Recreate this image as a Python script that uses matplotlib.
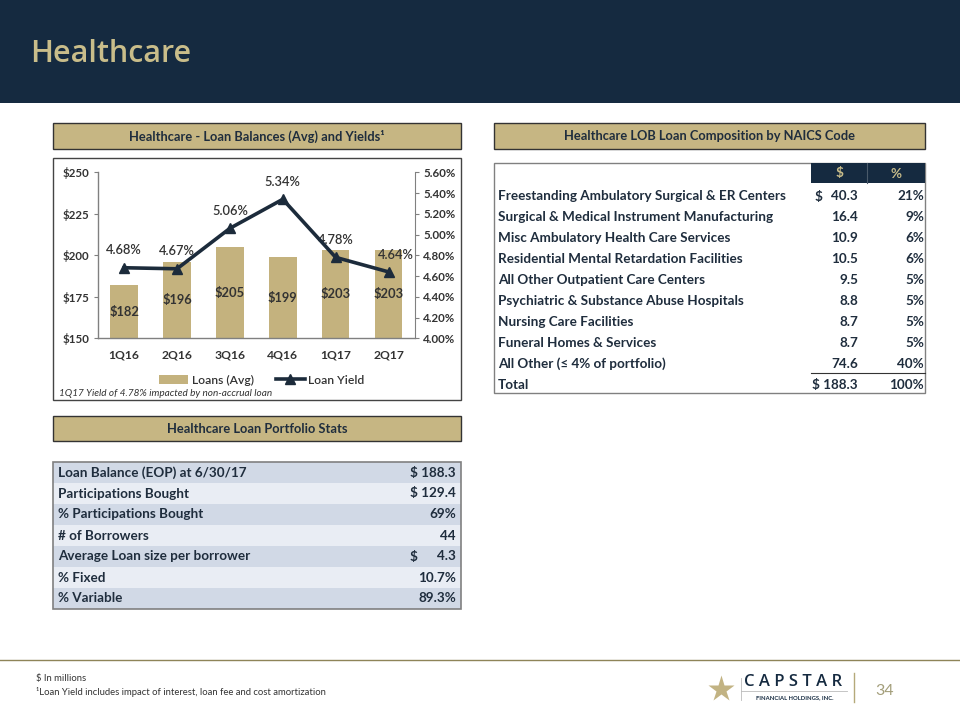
import matplotlib
matplotlib.use("Agg")
import matplotlib.pyplot as plt
from matplotlib.patches import Rectangle, Patch
from matplotlib.lines import Line2D
from matplotlib.ticker import FuncFormatter, FixedLocator

plt.rcParams['font.family'] = ['Lato', 'DejaVu Sans']

# ---------------- data ----------------
quarters = ["1Q16", "2Q16", "3Q16", "4Q16", "1Q17", "2Q17"]
loans_avg = [182, 196, 205, 199, 203, 203]
loan_yield = [4.68, 4.67, 5.06, 5.34, 4.78, 4.64]
left_ticks = [150, 175, 200, 225, 250]
right_ticks = [4.00, 4.20, 4.40, 4.60, 4.80, 5.00, 5.20, 5.40, 5.60]

naics_labels = [
    "Freestanding Ambulatory Surgical & ER Centers",
    "Surgical & Medical Instrument Manufacturing",
    "Misc Ambulatory Health Care Services",
    "Residential Mental Retardation Facilities",
    "All Other Outpatient Care Centers",
    "Psychiatric & Substance Abuse Hospitals",
    "Nursing Care Facilities",
    "Funeral Homes & Services",
    "All Other (\u2264 4% of portfolio)",
    "Total",
]
naics_dollars = ["40.3", "16.4", "10.9", "10.5", "9.5", "8.8", "8.7", "8.7", "74.6", "$ 188.3"]
naics_pct = ["21%", "9%", "6%", "6%", "5%", "5%", "5%", "5%", "40%", "100%"]

stats_labels = [
    "Loan Balance (EOP) at 6/30/17",
    "Participations Bought",
    "% Participations Bought",
    "# of Borrowers",
    "Average Loan size per borrower",
    "% Fixed",
    "% Variable",
]
stats_values = ["$ 188.3", "$ 129.4", "69%", "44", "4.3", "10.7%", "89.3%"]

# ---------------- styles ----------------
NAVY = "#152A40"
GOLD_TXT = "#C9BD8A"
GOLD_BOX = "#C6B683"
BAR = "#C4B27E"
LINE = "#1C2B3B"
DARK = "#1F2D3D"
GRAY = "#808080"
W, H = 960, 720

fig = plt.figure(figsize=(9.6, 7.2), dpi=100)
fig.patch.set_facecolor("white")

bg = fig.add_axes([0, 0, 1, 1])
bg.set_xlim(0, W)
bg.set_ylim(H, 0)
bg.axis("off")

# header band
bg.add_patch(Rectangle((0, 0), W, 103, facecolor=NAVY, edgecolor="none"))
bg.text(30, 54, "Healthcare", color=GOLD_TXT, fontsize=22, va="center", ha="left",
        fontweight="semibold", family=["Open Sans", "DejaVu Sans"])


def title_box(x0, y0, x1, y1, text):
    bg.add_patch(Rectangle((x0, y0), x1 - x0, y1 - y0, facecolor=GOLD_BOX,
                           edgecolor="#333333", lw=1.0))
    bg.text((x0 + x1) / 2, (y0 + y1) / 2 + 0.5, text, ha="center", va="center",
            fontsize=9.3, fontweight="bold", color=DARK)


title_box(53, 123, 461, 149, "Healthcare - Loan Balances (Avg) and Yields\u00b9")
title_box(494, 123, 925, 149, "Healthcare LOB Loan Composition by NAICS Code")
title_box(53, 416, 461, 441, "Healthcare Loan Portfolio Stats")

# chart frame
bg.add_patch(Rectangle((53, 158), 408, 242, facecolor="none", edgecolor="#444444", lw=1.0))

# ---------------- chart ----------------
L, R, T, B = 97.7, 415, 172.3, 338.3
ax = fig.add_axes([L / W, 1 - B / H, (R - L) / W, (B - T) / H])
ax.set_facecolor("none")
x = list(range(len(quarters)))
ax.bar(x, loans_avg, width=0.52, color=BAR, zorder=2)
ax.set_xlim(-0.5, len(quarters) - 0.5)
ax.set_ylim(150, 250)
ax.yaxis.set_major_locator(FixedLocator(left_ticks))
ax.yaxis.set_major_formatter(FuncFormatter(lambda v, p: f"${v:.0f}"))
ax.set_xticks(x)
ax.set_xticklabels(quarters, fontsize=8.7, fontweight="bold", color="#333333")
ax.tick_params(axis="x", length=0, pad=8)
ax.tick_params(axis="y", direction="out", length=3, color=GRAY, labelsize=8.3,
               labelcolor="#333333", pad=3)
for lab in ax.get_yticklabels():
    lab.set_fontweight("bold")
for s in ["top", "right"]:
    ax.spines[s].set_visible(False)
for s in ["left", "bottom"]:
    ax.spines[s].set_color(GRAY)
    ax.spines[s].set_linewidth(1.0)
for xi, v in zip(x, loans_avg):
    ax.text(xi, (150 + v) / 2, f"${v}", ha="center", va="center", fontsize=9.3,
            fontweight="bold", color="#333333", zorder=4)

ax2 = ax.twinx()
ax2.set_ylim(4.0, 5.6)
ax2.yaxis.set_major_locator(FixedLocator(right_ticks))
ax2.yaxis.set_major_formatter(FuncFormatter(lambda v, p: f"{v:.2f}%"))
ax2.plot(x, loan_yield, color=LINE, lw=2.6, marker="^", markersize=6.5, zorder=5)
ax2.tick_params(axis="y", direction="out", length=3, color=GRAY, labelsize=8.3,
                labelcolor="#333333", pad=3)
for lab in ax2.get_yticklabels():
    lab.set_fontweight("bold")
for s in ["top", "left", "bottom"]:
    ax2.spines[s].set_visible(False)
ax2.spines["right"].set_color(GRAY)
for xi, v in zip(x, loan_yield):
    dx = 5 if xi == len(x) - 1 else 0
    ax2.annotate(f"{v:.2f}%", (xi, v), xytext=(dx, 12.5), textcoords="offset points",
                 ha="center", va="center", fontsize=9.3, fontweight="semibold",
                 color="#333333")

handles = [Patch(facecolor=BAR, edgecolor="none"),
           Line2D([0], [0], color=LINE, lw=2.6, marker="^", markersize=6.5)]
leg = fig.legend(handles, ["Loans (Avg)", "Loan Yield"], loc="center",
                 bbox_to_anchor=(262 / W, 1 - 380 / H), ncol=2, frameon=False,
                 fontsize=8.7, handlelength=2.4, handletextpad=0.3, columnspacing=1.8)
for t in leg.get_texts():
    t.set_fontweight("semibold")
    t.set_color("#333333")

bg.text(59, 393, "1Q17 Yield of 4.78% impacted by non-accrual loan", fontsize=7.2,
        style="italic", color="#333333", va="center", ha="left")

# ---------------- NAICS table ----------------
bg.add_patch(Rectangle((494, 163), 431, 230, facecolor="none", edgecolor=GRAY, lw=1.0))
bg.add_patch(Rectangle((811, 163), 56, 20, facecolor=NAVY, edgecolor="none"))
bg.add_patch(Rectangle((867, 163), 58, 20, facecolor=NAVY, edgecolor="none"))
bg.plot([867, 867], [163, 183], color="#4A5A6A", lw=0.8)
bg.text(839, 173.5, "$", ha="center", va="center", fontsize=9.7, fontweight="bold", color=GOLD_TXT)
bg.text(896, 173.5, "%", ha="center", va="center", fontsize=9.7, fontweight="bold", color=GOLD_TXT)
row0, rstep = 196.5, 20.95
for i, (lab, d, p) in enumerate(zip(naics_labels, naics_dollars, naics_pct)):
    y = row0 + i * rstep
    bg.text(498, y, lab, ha="left", va="center", fontsize=9.7, fontweight="bold", color=DARK)
    bg.text(858, y, d, ha="right", va="center", fontsize=9.7, fontweight="bold", color=DARK)
    bg.text(924, y, p, ha="right", va="center", fontsize=9.7, fontweight="bold", color=DARK)
    if i == 0:
        bg.text(815, y, "$", ha="left", va="center", fontsize=9.7, fontweight="bold", color=DARK)
bg.plot([811, 925], [372.5, 372.5], color="#333333", lw=0.8)

# ---------------- stats table ----------------
sy0, sh = 462, 21
for i, (lab, val) in enumerate(zip(stats_labels, stats_values)):
    y = sy0 + i * sh
    bg.add_patch(Rectangle((53, y), 408, sh, facecolor="#D1D9E6" if i % 2 == 0 else "#E9EDF4",
                           edgecolor="none"))
    bg.text(58, y + sh / 2, lab, ha="left", va="center", fontsize=9.7, fontweight="bold", color=DARK)
    bg.text(456, y + sh / 2, val, ha="right", va="center", fontsize=9.7, fontweight="bold", color=DARK)
    if lab.startswith("Average"):
        bg.text(410, y + sh / 2, "$", ha="left", va="center", fontsize=9.7, fontweight="bold", color=DARK)
bg.add_patch(Rectangle((53, sy0), 408, sh * len(stats_labels), facecolor="none",
                       edgecolor=GRAY, lw=1.2))

# ---------------- footer ----------------
bg.plot([0, W], [660, 660], color="#8E8458", lw=1.0)
bg.text(36, 679, "$ In millions", fontsize=6.8, color="#333333", va="center", ha="left")
bg.text(36, 692, "\u00b9Loan Yield includes impact of interest, loan fee and cost amortization",
        fontsize=6.8, color="#333333", va="center", ha="left")
bg.plot([721], [689], marker="*", markersize=20, color="#C2B383", markeredgecolor="none")
bg.text(744, 682, "C A P S T A R", fontsize=12, color=NAVY, va="center", ha="left",
        fontweight="semibold", family=["Open Sans", "DejaVu Sans"])
bg.plot([741, 847], [691, 691], color="#BBBBBB", lw=0.6)
bg.plot([741, 741], [678, 700], color="#BBBBBB", lw=0.6)
bg.text(795, 698, "FINANCIAL HOLDINGS, INC.", fontsize=4.2, color=NAVY, va="center", ha="center",
        fontweight="bold")
bg.plot([854, 854], [673, 702], color="#B5A97A", lw=1.0)
bg.text(885, 691, "34", fontsize=11.5, color="#A39E7A", va="center", ha="center")

fig.savefig("out.png", dpi=100)
